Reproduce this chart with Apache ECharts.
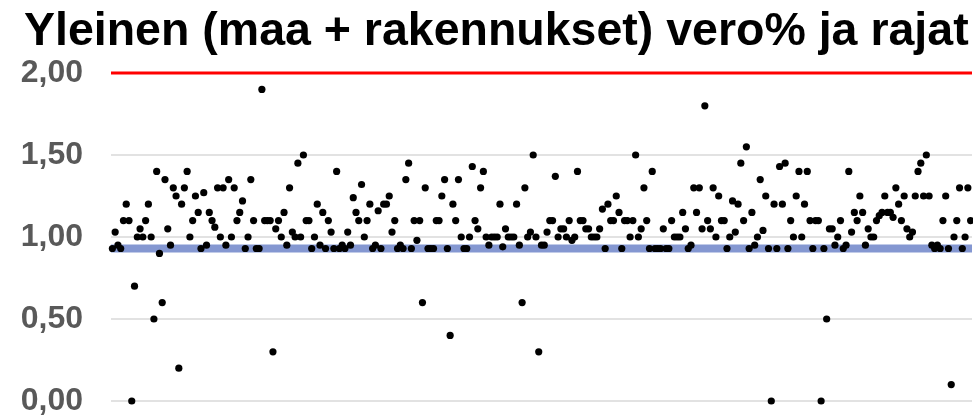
<!DOCTYPE html>
<html>
<head>
<meta charset="utf-8">
<script src="https://cdn.jsdelivr.net/npm/echarts@6/dist/echarts.min.js"></script>
<style>
html,body{margin:0;padding:0;background:#fff;}
#chart{width:973px;height:417px;}
</style>
</head>
<body>
<div id="chart"></div>
<script>
// Chart title
const chartTitle = 'Yleinen (maa + rakennukset) vero% ja rajat';

// General property tax rate (%) per municipality, in list order
const taxRates = [
  0.93, 1.03, 0.95, 0.93, 1.10, 1.20, 1.10, 0.00, 0.70, 1.00,
  1.05, 1.00, 1.10, 1.20, 1.00, 0.50, 1.40, 0.90, 0.60, 1.35,
  1.05, 0.95, 1.30, 1.25, 0.20, 1.20, 1.30, 1.40, 1.00, 1.10,
  1.25, 1.15, 0.93, 1.27, 0.95, 1.15, 1.10, 1.06, 1.30, 1.00,
  1.30, 0.95, 1.35, 1.00, 1.30, 1.10, 1.15, 1.22, 0.93, 1.00,
  1.35, 1.10, 0.93, 0.93, 1.90, 1.10, 1.10, 1.10, 0.30, 1.05,
  1.10, 1.00, 1.15, 0.95, 1.30, 1.03, 1.00, 1.45, 1.00, 1.50,
  1.10, 1.10, 0.93, 1.00, 1.20, 0.95, 1.15, 0.93, 1.10, 1.03,
  0.93, 1.40, 0.93, 0.95, 0.93, 1.03, 0.95, 1.24, 1.15, 1.10,
  1.32, 1.00, 1.10, 1.20, 0.93, 0.95, 1.16, 0.93, 1.20, 1.20,
  1.25, 1.03, 1.10, 0.93, 0.95, 0.93, 1.35, 1.45, 0.93, 1.10,
  0.98, 1.10, 0.60, 1.30, 0.93, 0.93, 0.93, 1.10, 1.10, 1.25,
  1.35, 0.93, 0.40, 1.20, 1.10, 1.35, 1.00, 0.93, 0.93, 1.00,
  1.43, 1.10, 1.05, 1.30, 1.40, 1.00, 0.95, 1.00, 1.00, 1.00,
  1.20, 0.94, 1.05, 1.00, 1.00, 1.00, 1.20, 0.95, 0.60, 1.30,
  1.00, 1.03, 1.50, 1.00, 0.30, 0.95, 0.95, 1.03, 1.10, 1.10,
  1.37, 1.00, 1.05, 1.05, 1.00, 1.10, 0.98, 1.00, 1.40, 1.10,
  1.10, 1.05, 1.05, 1.00, 1.00, 1.00, 1.05, 1.17, 0.93, 1.20,
  1.10, 1.10, 1.25, 1.15, 0.93, 1.10, 1.10, 1.00, 1.10, 1.50,
  1.00, 1.05, 1.30, 1.10, 0.93, 1.40, 0.93, 0.93, 0.93, 1.05,
  0.93, 0.93, 1.10, 1.00, 1.00, 1.00, 1.15, 1.05, 0.93, 0.95,
  1.30, 1.15, 1.30, 1.05, 1.80, 1.10, 1.05, 1.30, 1.00, 1.25,
  1.10, 1.10, 0.93, 1.00, 1.22, 1.03, 1.20, 1.45, 1.10, 1.55,
  0.93, 1.15, 0.95, 1.00, 1.35, 1.04, 1.25, 0.93, 0.00, 1.20,
  0.93, 1.43, 1.20, 1.45, 0.93, 1.10, 1.00, 1.25, 1.40, 1.00,
  1.20, 1.40, 1.10, 0.93, 1.10, 1.10, 0.00, 0.93, 0.50, 1.05,
  1.05, 0.95, 1.00, 1.10, 0.93, 0.95, 1.40, 1.03, 1.15, 1.10,
  1.25, 1.15, 0.95, 1.05, 1.00, 1.00, 1.10, 1.13, 1.15, 1.25,
  1.15, 1.15, 1.12, 1.30, 1.20, 1.10, 1.25, 1.05, 1.00, 1.03,
  1.25, 1.40, 1.45, 1.25, 1.50, 1.25, 0.95, 0.93, 0.95, 0.93,
  1.10, 1.25, 0.93, 0.10, 1.00, 1.10, 1.30, 0.93, 1.00, 1.30,
  1.10
];

// Legal limits of the general rate
const lowerLimit = [0.93];
const upperLimit = [2.00];

// Y axis tick values
const yTicks = [0, 0.5, 1.0, 1.5, 2.0];

const xMin = -0.5;
const xMax = taxRates.length - 0.5;
const points = taxRates.map((v, i) => [i, v]);
const limitLine = v => [[xMin, v], [xMax, v]];
const fmt = v => v.toFixed(2).replace('.', ',');
const FONT = "'Liberation Sans', Arial, sans-serif";

const chart = echarts.init(document.getElementById('chart'), null, {renderer: 'canvas'});
chart.setOption({
  animation: false,
  backgroundColor: '#ffffff',
  title: {
    text: chartTitle,
    left: 19,
    top: 4,
    textStyle: {fontFamily: FONT, fontSize: 46.5, fontWeight: 'bold', color: '#000000'}
  },
  grid: {left: 111, right: 1, top: 73, bottom: 12, containLabel: false},
  xAxis: {
    type: 'value',
    min: xMin,
    max: xMax,
    show: false,
    splitLine: {show: false}
  },
  yAxis: {
    type: 'value',
    min: yTicks[0],
    max: yTicks[yTicks.length - 1],
    interval: yTicks[1] - yTicks[0],
    axisLine: {show: false},
    axisTick: {show: false},
    axisLabel: {
      formatter: fmt,
      fontFamily: FONT,
      fontSize: 32,
      fontWeight: 'bold',
      color: '#595959',
      margin: 28
    },
    splitLine: {lineStyle: {color: '#d9d9d9', width: 1.5}}
  },
  series: [
    {
      type: 'line',
      data: limitLine(upperLimit[0]),
      z: 1,
      symbol: 'none',
      silent: true,
      clip: false,
      lineStyle: {color: '#ff0000', width: 3}
    },
    {
      type: 'line',
      data: limitLine(lowerLimit[0]),
      z: 1,
      symbol: 'none',
      silent: true,
      lineStyle: {color: '#8497d1', width: 8}
    },
    {
      type: 'scatter',
      data: points,
      z: 3,
      clip: false,
      symbol: 'circle',
      symbolSize: 7.2,
      itemStyle: {color: '#000000', opacity: 1},
      emphasis: {disabled: true}
    }
  ]
});
</script>
</body>
</html>
